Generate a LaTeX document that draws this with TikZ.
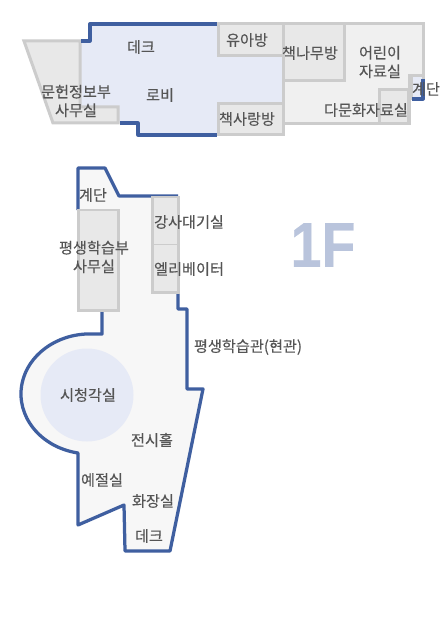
\documentclass[tikz,border=0pt]{standalone}
\usepackage{fontspec}
\setmainfont{Noto Sans CJK KR}[FakeBold=0.25]
\newfontfamily\bigfont{Liberation Sans}[FakeBold=0.5]
\usepackage{tikz}
\definecolor{wallblue}{HTML}{3F5FA0}
\definecolor{lobbyblue}{HTML}{E6EAF6}
\definecolor{wallgray}{HTML}{CCCCCC}
\definecolor{roomgray}{HTML}{E8E8E8}
\definecolor{floorgray}{HTML}{F0F0F0}
\definecolor{halllight}{HTML}{F7F7F7}
\definecolor{labelgray}{HTML}{555555}
\definecolor{floorblue}{HTML}{B9C4DC}
\tikzstyle{label} = [text = labelgray, font = \fontsize{8.65}{10.6}\selectfont, align = center, inner sep = 0pt]
\tikzstyle{room} = [draw = wallgray, fill = roomgray, line width = 0.06cm]
\tikzstyle{wall} = [draw = wallblue, line width = 0.065cm, line join = round]
\begin{document}
\begin{tikzpicture}[x = 0.02cm, y = 0.02cm]
	\useasboundingbox (0, 0) rectangle (448, -618);
	\fill [white] (0, 0) rectangle (448, -618);

	% Top wing
	\fill [lobbyblue] (81, -41) -- (90, -41) -- (90, -24) -- (283, -24) -- (283, -135) -- (138, -135) -- (138, -123) -- (118, -123) -- (81, -107) -- cycle;
	\path [room, fill = floorgray] (283, -24) -- (423, -24) -- (423, -76) -- (409, -76) -- (409, -124) -- (283, -124) -- cycle;
	\path [room] (24, -41) -- (80, -41) -- (80, -107) -- (118, -107) -- (118, -123) -- (53, -123) -- cycle;
	\path [room] (218, -24) rectangle (283, -56);
	\path [room] (283, -24) rectangle (344, -81);
	\path [room] (218, -104) rectangle (283, -135);
	\path [room] (379, -90) rectangle (408, -124);
	\path [room, fill = lobbyblue] (411, -76) rectangle (423, -99);
	\path [wall] (81, -41) -- (90, -41) -- (90, -24) -- (217, -24);
	\path [wall] (120, -123) -- (138, -123) -- (138, -135) -- (217, -135);
	\path [wall] (423, -79) -- (423, -99) -- (412, -99);

	% Lower wing
	\fill [halllight] (78, -168) -- (105, -168) -- (119, -196) -- (178, -196) -- (178, -309) -- (187, -309) -- (187, -389) -- (203, -389) -- (170, -551) -- (125, -551) -- (124, -505) -- (78, -525) -- (78, -453) arc [start angle = 260, end angle = 90, x radius = 69, y radius = 60] -- (102, -334) -- (102, -310) -- (78, -310) -- cycle;
	\path [wall] (78, -210) -- (78, -168) -- (105, -168) -- (119, -196) -- (178, -196);
	\path [wall] (178, -292) -- (178, -309) -- (187, -309) -- (187, -389) -- (203, -389) -- (170, -551) -- (125, -551) -- (124, -505) -- (78, -525) -- (78, -453) arc [start angle = 260, end angle = 90, x radius = 69, y radius = 60] -- (102, -334) -- (102, -310) -- (78, -310);
	\fill [lobbyblue] (87, -395) circle (46.5);
	\path [room] (78, -210) rectangle (118, -310);
	\path [room] (152, -197) rectangle (178, -292);
	\draw [wallgray, line width = 0.02cm] (152, -244) -- (178, -244);

	% Place nodes
	\node [label] (deck) at (141, -47) {데크};
	\node [label] (lobby) at (160, -95) {로비};
	\node [label] (archive) at (76, -101) {문헌정보부\\사무실};
	\node [label] (kids) at (247, -40) {유아방};
	\node [label] (tree) at (310, -53) {책나무방};
	\node [label] (child) at (380, -62) {어린이\\자료실};
	\node [label] (stairtop) at (426, -89) {계단};
	\node [label] (multi) at (366, -110) {다문화자료실};
	\node [label] (booklove) at (247, -119) {책사랑방};
	\node [label] (stairlow) at (93, -195) {계단};
	\node [label] (study) at (94, -257) {평생학습부\\사무실};
	\node [label] (waiting) at (189, -222) {강사대기실};
	\node [label] (elevator) at (189, -269) {엘리베이터};
	\node [label] (entrance) at (248, -347) {평생학습관(현관)};
	\node [label] (av) at (88, -395) {시청각실};
	\node [label] (hall) at (152, -440) {전시홀};
	\node [label] (manners) at (102, -480) {예절실};
	\node [label] (toilet) at (153, -501) {화장실};
	\node [label] (decklow) at (149, -536) {데크};
	\node [text = floorblue, inner sep = 0pt, xscale = 0.88, font = \bigfont\bfseries\fontsize{36}{36}\selectfont] (floor) at (323, -245) {1F};
\end{tikzpicture}
\end{document}
